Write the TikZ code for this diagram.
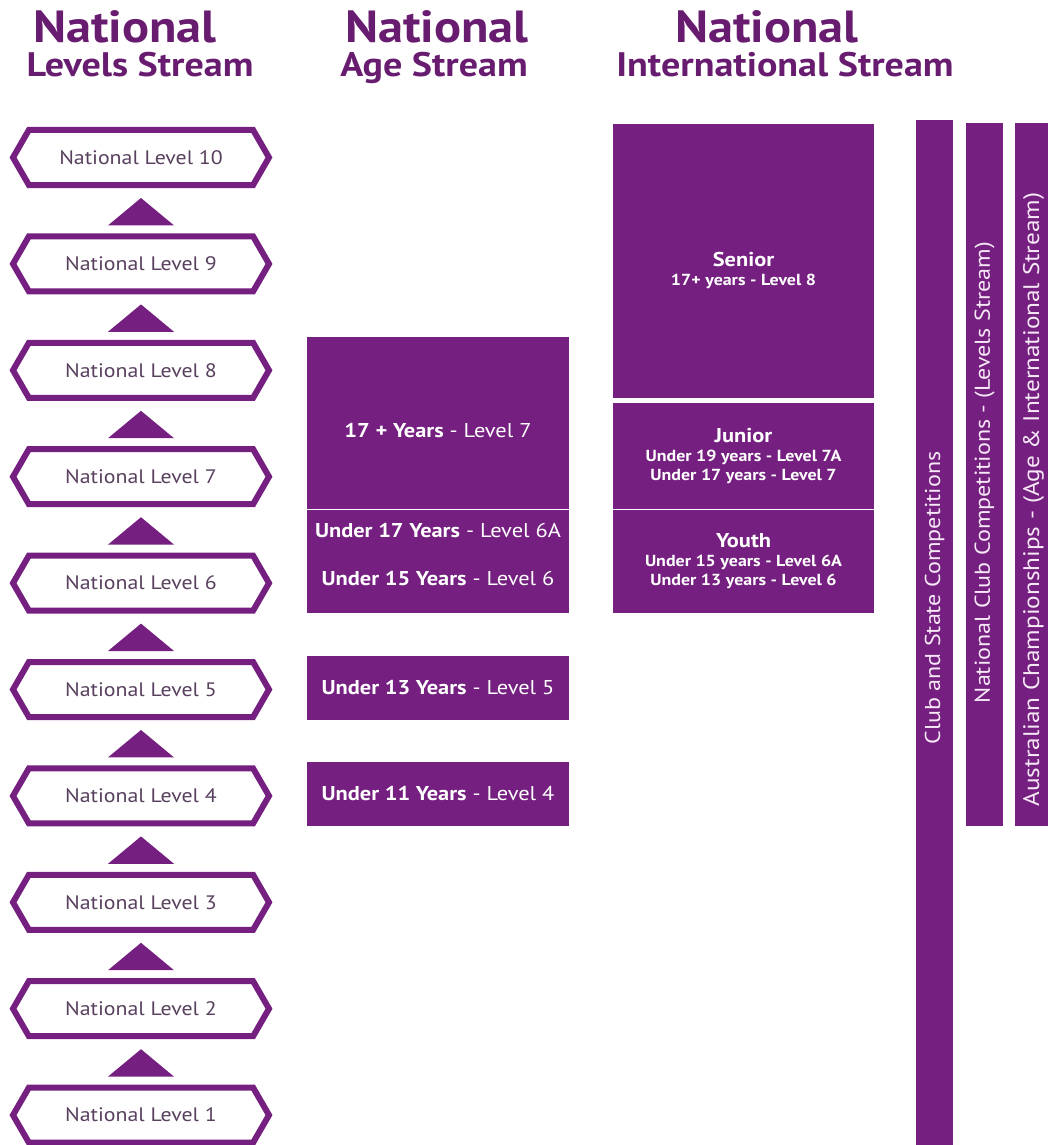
\documentclass[tikz,border=0pt]{standalone}
\usepackage{fontspec}
\setmainfont{PT Sans}
\newfontfamily\widesans[FakeStretch=1.12]{PT Sans}
\usetikzlibrary{positioning,shapes.symbols,calc}

\definecolor{natpurple}{RGB}{117,31,128}
\definecolor{headpurple}{RGB}{104,28,112}
\definecolor{hexgrey}{RGB}{88,64,94}
\definecolor{barwhite}{RGB}{246,232,246}

\begin{document}
\begin{tikzpicture}[
    x=1pt, y=-1pt,
    levelhex/.style={signal, signal to=west and east, signal pointer angle=120, draw=natpurple, line width=6pt, fill=white, minimum width=256pt, minimum height=55pt, inner sep=0pt, text=hexgrey, font=\widesans\fontsize{19.5}{22}\selectfont},
    uptri/.style={fill=natpurple},
    agebox/.style={rectangle, fill=natpurple, minimum width=262pt, inner sep=0pt, text=white, align=center, font=\widesans\fontsize{20}{48}\selectfont},
    intbox/.style={rectangle, fill=natpurple, minimum width=261pt, inner sep=0pt, text=white, align=center, font=\widesans\fontsize{16}{19}\selectfont\bfseries},
    compbar/.style={rectangle, fill=natpurple, minimum width=37pt, inner sep=0pt},
    bartext/.style={text=barwhite, rotate=90, inner sep=0pt, font=\widesans\fontsize{21.5}{24}\selectfont},
    headbig/.style={anchor=base, text=headpurple, text depth=0pt, inner sep=0pt, font=\widesans\fontsize{45}{46}\selectfont\bfseries},
    headsmall/.style={anchor=base, text=headpurple, text height=25pt, inner sep=0pt, font=\widesans\fontsize{34}{36}\selectfont\bfseries},
]
\useasboundingbox (0,0) rectangle (1047,1145);

% Headers
\node[headbig] (hlevtop) at (125,43) {National};
\node[headsmall] (hlevsub) at (140,77) {Levels Stream};
\node[headbig] (hagetop) at (437,43) {National};
\node[headsmall] (hagesub) at (434,77) {Age Stream};
\node[headbig] (hinttop) at (767,43) {National};
\node[headsmall] (hintsub) at (785,77) {International Stream};

% Levels stream
\foreach \n in {1,...,10}
    \node[levelhex] (lv\n) at (141,{157.5+(10-\n)*106.4}) {National Level \n};
\foreach \n [evaluate=\n as \m using int(\n+1)] in {1,...,9}
    \fill[uptri] ($(lv\n.north)+(-33,-8)$) -- ($(lv\n.north)+(33,-8)$) -- ($(lv\m.south)+(0,10)$) -- cycle;

% Age stream
\node[agebox, minimum height=171.5pt, text height=30pt, text depth=1.5pt] (age17) at (438,422.75) {\textbf{17 + Years} - Level 7};
\node[agebox, minimum height=103pt, text height=52pt, text depth=5pt] (age15) at (438,561.5) {\textbf{Under 17 Years} - Level 6A\\\textbf{Under 15 Years} - Level 6};
\node[agebox, minimum height=64pt] (age13) at (438,688) {\textbf{Under 13 Years} - Level 5};
\node[agebox, minimum height=64pt] (age11) at (438,794) {\textbf{Under 11 Years} - Level 4};

% International stream
\node[intbox, minimum height=274pt, text height=53pt, text depth=4pt] (senior) at (743.5,261) {{\fontsize{20}{19}\selectfont Senior}\\17+ years - Level 8};
\node[intbox, minimum height=105.5pt] (junior) at (743.5,455.75) {{\fontsize{20}{19}\selectfont Junior}\\Under 19 years - Level 7A\\Under 17 years - Level 7};
\node[intbox, minimum height=103pt] (youth) at (743.5,561.5) {{\fontsize{20}{19}\selectfont Youth}\\Under 15 years - Level 6A\\Under 13 years - Level 6};

% Competitions
\node[compbar, minimum height=1030pt] (club) at (934.5,635) {};
\node[compbar, minimum height=703pt] (natclub) at (984.5,474.5) {};
\node[compbar, minimum height=703pt] (aust) at (1033.5,474.5) {};
\node[bartext] (clubtxt) at ($(club)+(0,-37)$) {Club and State Competitions};
\node[bartext] (natclubtxt) at ($(natclub)+(0,-2)$) {National Club Competitions - (Levels Stream)};
\node[bartext, font=\widesans\fontsize{22.5}{24}\selectfont] (austtxt) at ($(aust)+(0,25)$) {Australian Championships - (Age \& International Stream)};

\end{tikzpicture}
\end{document}
